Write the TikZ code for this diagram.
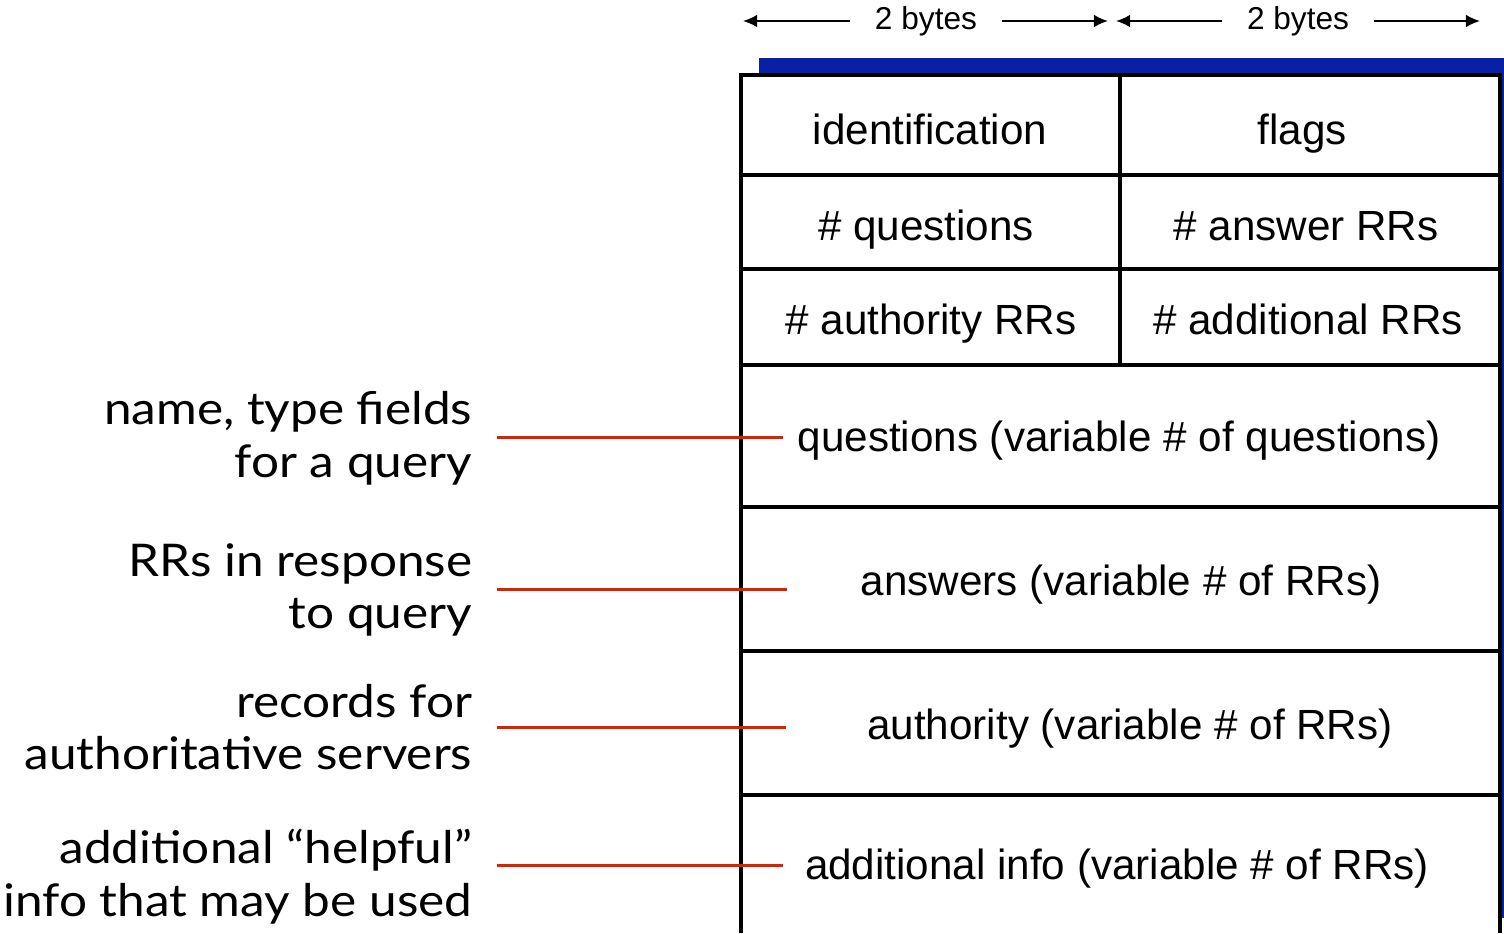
\documentclass[tikz,border=0pt]{standalone}
\usepackage{fontspec}
\setmainfont{Liberation Sans}
\newfontfamily\notefont[FakeStretch=1.1]{Lato}
\usetikzlibrary{arrows.meta}

\definecolor{hdrblue}{RGB}{8,32,168}
\definecolor{notered}{RGB}{221,34,0}

\tikzset{
  field/.style={font=\fontsize{12}{14}\selectfont, text height=9.6pt, text depth=0pt},
  note/.style={font=\notefont\fontsize{12.8}{15}\selectfont, align=right, anchor=east, inner xsep=0.24cm},
  pointer/.style={notered, line width=0.85pt},
  bytelabel/.style={font=\fontsize{9}{11}\selectfont, inner xsep=0.24cm},
  bytearrow/.style={-{Latex[length=4pt,width=3.6pt]}, line width=0.55pt},
  frame/.style={line width=1.1pt}
}

\begin{document}
\begin{tikzpicture}[x=0.01cm, y=-0.01cm]
\useasboundingbox (0,0) rectangle (1504,933);

% field widths
\node[bytelabel] (wa) at (926,21) {2 bytes};
\node[bytelabel] (wb) at (1298,21) {2 bytes};
\coordinate (wa0) at (743,21);
\coordinate (wa1) at (1108,21);
\coordinate (wb0) at (1116,21);
\coordinate (wb1) at (1480,21);
\draw[bytearrow] (wa.west) -- (wa0);
\draw[bytearrow] (wa.east) -- (wa1);
\draw[bytearrow] (wb.west) -- (wb0);
\draw[bytearrow] (wb.east) -- (wb1);

% message box
\fill[hdrblue] (759,58) rectangle (1504,918);
\fill[white] (741,75) rectangle (1500,933);
\draw[frame] (741,933) -- (741,75) -- (1500,75) -- (1500,933);
\foreach \y in {175,269,365,507,651,795}
  \draw[frame] (741,\y) -- (1500,\y);
\draw[frame] (1120,75) -- (1120,365);

\node[field] (ident) at (930,128) {identification};
\node[field] (flags) at (1302,128) {flags};
\node[field] (nques) at (926,224) {\# questions};
\node[field] (nansw) at (1306,224) {\# answer RRs};
\node[field] (nauth) at (931,318) {\# authority RRs};
\node[field] (naddl) at (1308,318) {\# additional RRs};
\node[field] (ques) at (1119,435) {questions (variable \# of questions)};
\node[field] (answ) at (1121,579) {answers (variable \# of RRs)};
\node[field] (auth) at (1130,723) {authority (variable \# of RRs)};
\node[field] (addl) at (1117,863) {additional info (variable \# of RRs)};

% notes
\node[note] (nq) at (497,438) {name, type fields\\for a query};
\node[note] (nr) at (497,590) {RRs in response\\to query};
\node[note] (na) at (497,727) {records for\\authoritative servers};
\node[note] (ni) at (497,877) {additional “helpful”\\info that may be used};
\coordinate (pq) at (783,437);
\coordinate (pr) at (787,589);
\coordinate (pa) at (786,727);
\coordinate (pi) at (783,865);
\draw[pointer] (nq.east |- pq) -- (pq);
\draw[pointer] (nr.east |- pr) -- (pr);
\draw[pointer] (na.east) -- (pa);
\draw[pointer] (ni.east |- pi) -- (pi);
\end{tikzpicture}
\end{document}
